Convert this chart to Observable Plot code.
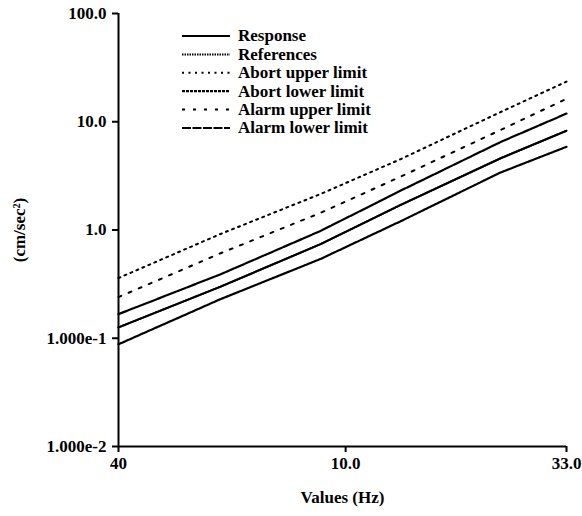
<!DOCTYPE html>
<html><head><meta charset="utf-8">
<script src="https://cdn.jsdelivr.net/npm/d3@7"></script>
<script src="https://cdn.jsdelivr.net/npm/@observablehq/plot@0.6"></script>
<style>
body{margin:0;background:#fff}
#wrap{position:relative;width:582px;height:516px}
#legend{position:absolute;left:0;top:0}
</style>
</head><body><div id="wrap"></div>
<script>
// x positions along the (non-uniform) frequency axis, in axis units 0..100
const xPos = [0, 22.8, 45.1, 62.9, 85.3, 100];
const xTickPos = [0, 50.7, 100];
const xTickLabels = ["40", "10.0", "33.0"];

const yTicks = [0.01, 0.1, 1, 10, 100];
const yTickLabels = ["1.000e-2", "1.000e-1", "1.0", "10.0", "100.0"];

const seriesNames = ["Response", "References", "Abort upper limit", "Abort lower limit", "Alarm upper limit", "Alarm lower limit"];
const response    = [0.126, 0.30, 0.74, 1.70, 4.6, 8.26];
const references  = [0.126, 0.30, 0.74, 1.70, 4.6, 8.26];
const abortUpper  = [0.36, 0.92, 2.15, 4.5, 12.3, 23.5];
const abortLower  = [0.088, 0.23, 0.54, 1.20, 3.4, 5.87];
const alarmUpper  = [0.24, 0.61, 1.44, 3.1, 8.4, 16.3];
const alarmLower  = [0.167, 0.39, 0.98, 2.30, 6.5, 11.9];

const seriesValues = [response, references, abortUpper, abortLower, alarmUpper, alarmLower];
const dashes = [null, "1.5,1", "2,4.5", "3,1", "3,8", "9,1.5"];
const widths = [2, 2, 2, 2.2, 2, 2.2];

const font = "'Liberation Serif', 'DejaVu Serif', serif";

const rows = [];
seriesNames.forEach((name, s) => {
  seriesValues[s].forEach((v, i) => rows.push({series: name, x: xPos[i], y: v}));
});

const lineMarks = seriesNames.map((name, s) =>
  Plot.line(rows.filter(d => d.series === name), {
    x: "x", y: "y", stroke: "black", strokeWidth: widths[s],
    strokeDasharray: dashes[s] || undefined, curve: "linear"
  })
);

const chart = Plot.plot({
  width: 582, height: 516,
  marginLeft: 118, marginRight: 16, marginTop: 13, marginBottom: 70,
  style: {fontFamily: font, fontSize: "17px", fontWeight: "bold", background: "white", color: "black"},
  x: {domain: [0, 100]},
  y: {type: "log", domain: [0.01, 100]},
  marks: [
    Plot.axisX({ticks: xTickPos, tickSize: 6, tickPadding: 4, strokeWidth: 2,
      tickFormat: d => xTickLabels[xTickPos.indexOf(d)],
      label: "Values (Hz)", labelAnchor: "center", labelArrow: "none", labelOffset: 56}),
    Plot.axisY({ticks: yTicks, tickSize: 6, tickPadding: 6, strokeWidth: 2,
      tickFormat: d => yTickLabels[yTicks.indexOf(d)],
      label: "(cm/sec²)", labelAnchor: "center", labelArrow: "none", labelOffset: 106}),
    Plot.ruleX([0], {stroke: "black", strokeWidth: 2}),
    Plot.ruleY([0.01], {stroke: "black", strokeWidth: 2}),
    ...lineMarks
  ]
});
document.getElementById("wrap").appendChild(chart);

// legend overlay
const leg = d3.select("#wrap").append("svg").attr("id", "legend")
  .attr("width", 582).attr("height", 516);
seriesNames.forEach((name, s) => {
  const y = 36 + 18.4 * s;
  const l = leg.append("line").attr("x1", 182).attr("x2", 230).attr("y1", y).attr("y2", y)
    .attr("stroke", "black").attr("stroke-width", widths[s]);
  if (dashes[s]) l.attr("stroke-dasharray", dashes[s]);
  leg.append("text").attr("x", 238).attr("y", y).attr("dy", "0.32em")
    .attr("font-family", font).attr("font-size", 17).attr("font-weight", "bold")
    .text(name);
});
</script>
</body></html>
